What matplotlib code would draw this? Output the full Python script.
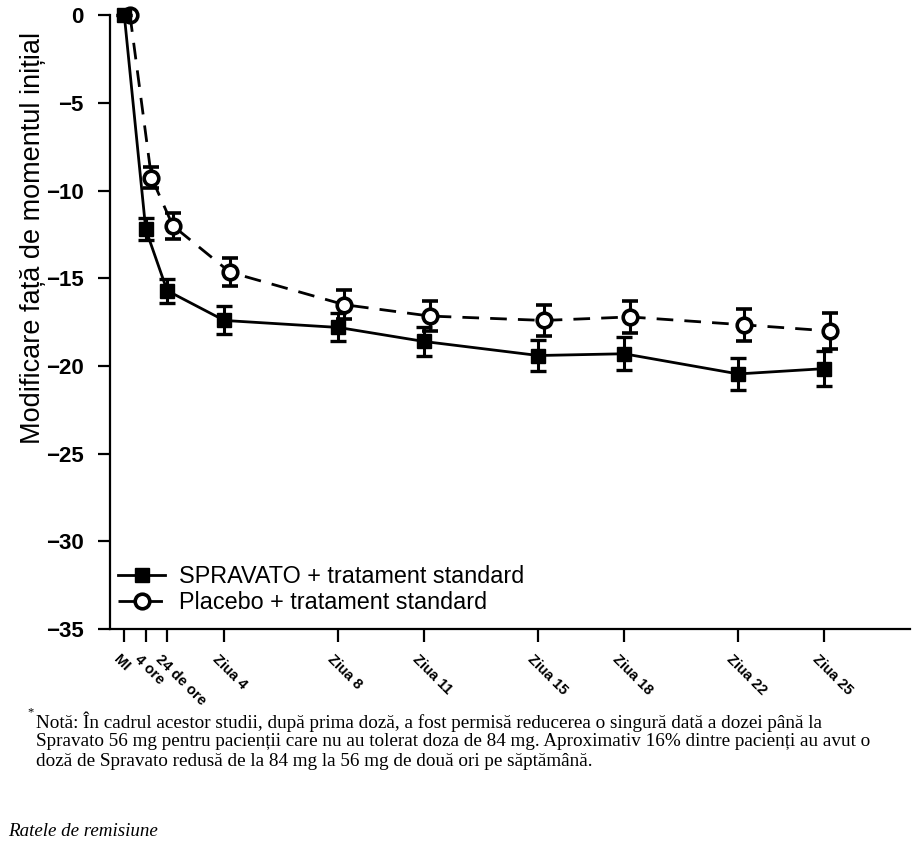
import matplotlib
matplotlib.use('Agg')
import matplotlib.pyplot as plt
import matplotlib.transforms as mtransforms
from matplotlib.lines import Line2D

plt.rcParams['font.family'] = ['Liberation Sans', 'DejaVu Sans']
serif = ['Liberation Serif', 'DejaVu Serif']

# time points (days from start, as drawn on the axis)
x_pos = [0.5, 1.25, 2, 4, 8, 11, 15, 18, 22, 25]
x_labels = ['MI', '4 ore', '24 de ore', 'Ziua 4', 'Ziua 8', 'Ziua 11',
            'Ziua 15', 'Ziua 18', 'Ziua 22', 'Ziua 25']

spravato = [0, -12.2, -15.7, -17.4, -17.8, -18.6, -19.4, -19.3, -20.45, -20.15]
spravato_err = [0, 0.62, 0.68, 0.8, 0.8, 0.85, 0.87, 0.94, 0.93, 0.98]
placebo = [0, -9.25, -12.0, -14.65, -16.5, -17.15, -17.4, -17.2, -17.65, -18.0]
placebo_err = [0, 0.61, 0.74, 0.8, 0.82, 0.85, 0.87, 0.93, 0.93, 1.0]
placebo_shift = 0.2

note_lines = [
    'Notă: În cadrul acestor studii, după prima doză, a fost permisă reducerea o singură dată a dozei până la',
    'Spravato 56 mg pentru pacienții care nu au tolerat doza de 84 mg. Aproximativ 16% dintre pacienți au avut o',
    'doză de Spravato redusă de la 84 mg la 56 mg de două ori pe săptămână.',
]

fig = plt.figure(figsize=(9.2, 8.49), dpi=100)
ax = fig.add_axes([0.1196, 0.259, 0.869, 0.723])

dash = (0, (6, 4))
px = [x + placebo_shift for x in x_pos]
ax.errorbar(px, placebo, yerr=placebo_err, color='black', lw=2,
            ls=dash, marker='o', ms=10.5, mfc='white', mec='black',
            mew=2.6, elinewidth=2.2, capsize=5.5, capthick=2.4, clip_on=False,
            zorder=3)
ax.errorbar(x_pos, spravato, yerr=spravato_err, color='black', lw=2,
            ls='-', marker='s', ms=10, mfc='black', mec='black',
            elinewidth=2.2, capsize=5.5, capthick=2.4, clip_on=False,
            zorder=4)

ax.set_xlim(0, 28)
ax.set_ylim(-35, 0)
ax.spines['top'].set_visible(False)
ax.spines['right'].set_visible(False)
ax.spines['left'].set_linewidth(1.6)
ax.spines['bottom'].set_linewidth(1.6)

ax.set_yticks(range(-35, 1, 5))
ax.set_yticklabels(['\u221235', '\u221230', '\u221225', '\u221220', '\u221215',
                    '\u221210', '\u22125', '0'], fontsize=16, fontweight='bold')
ax.tick_params(axis='y', length=9, width=1.6, pad=10)
ax.set_xticks(x_pos)
ax.set_xticklabels(x_labels, fontsize=10.5, fontweight='bold', rotation=-45,
                   ha='left', va='top', rotation_mode='anchor')
ax.tick_params(axis='x', length=9, width=1.6, pad=8)
shift = mtransforms.ScaledTranslation(-4 / 100, 0, fig.dpi_scale_trans)
for lbl in ax.get_xticklabels():
    lbl.set_transform(lbl.get_transform() + shift)

ax.set_ylabel('Modificare față de momentul inițial', fontsize=19.5)
ax.yaxis.set_label_coords(-0.08, 0.638)

legend_handles = [
    Line2D([], [], color='black', lw=2, marker='s', ms=10, mfc='black'),
    Line2D([], [], color='black', lw=2, ls=dash, marker='o', ms=10.5,
           mfc='white', mew=2.6),
]
ax.legend(legend_handles, ['SPRAVATO + tratament standard',
                           'Placebo + tratament standard'],
          loc='lower left', frameon=False, fontsize=16.8, handlelength=2.0,
          handletextpad=0.6, labelspacing=0.15, borderaxespad=0.0,
          borderpad=0.35, bbox_to_anchor=(0.0, 0.011))

# footnote below the chart, one text per line (20 px apart)
fig.text(0.030, 0.158, '*', fontsize=9, family=serif)
for i, line in enumerate(note_lines):
    fig.text(0.039, (849 - 722 - 20 * i) / 849, line, fontsize=13.8,
             va='center', family=serif)
fig.text(0.009, 0.015, 'Ratele de remisiune', fontsize=13.7, style='italic',
         family=serif)

fig.savefig('out.png', dpi=100)
